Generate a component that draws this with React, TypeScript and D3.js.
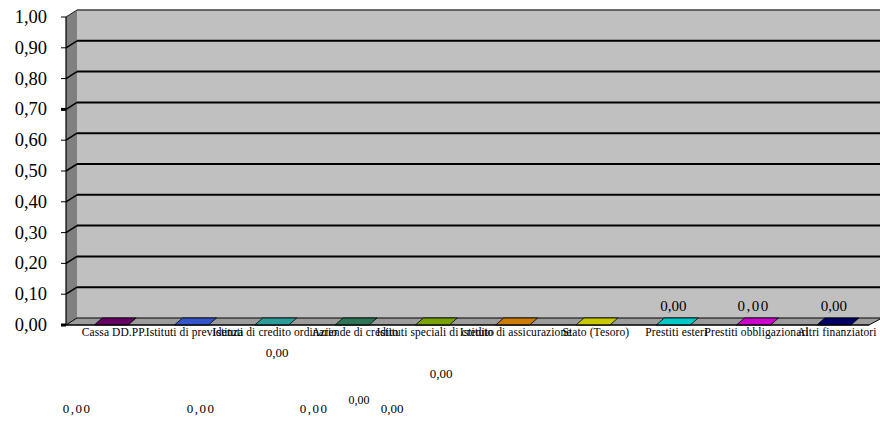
import React from "react";
import * as d3 from "d3";

const categories = [
  "Cassa DD.PP.",
  "Istituti di previdenza",
  "Istituti di credito ordinario",
  "Aziende di credito",
  "Istituti speciali di credito",
  "Istituto di assicurazione",
  "Stato (Tesoro)",
  "Prestiti esteri",
  "Prestiti obbligazionari",
  "Altri finanziatori",
];
const values = [0, 0, 0, 0, 0, 0, 0, 0, 0, 0];
const barColors = [
  "#660066", "#3355cc", "#2a9d9a", "#2e7558", "#78a300",
  "#cc7a00", "#c8c800", "#00c8c8", "#cc00cc", "#000066",
];
const yTicks = [0, 0.1, 0.2, 0.3, 0.4, 0.5, 0.6, 0.7, 0.8, 0.9, 1.0];

// layout (not data): where the stray value labels landed in the original export
const LABEL_POS: { x: number; y: number; size: number; ls: number }[] = [
  { x: 77, y: 413, size: 13, ls: 1.5 },
  { x: 201, y: 413, size: 13, ls: 1.5 },
  { x: 277, y: 357, size: 13, ls: 0 },
  { x: 314, y: 413, size: 13, ls: 1.5 },
  { x: 359, y: 404, size: 12, ls: 0 },
  { x: 392, y: 413, size: 13, ls: 0 },
  { x: 441, y: 378, size: 13, ls: 0 },
];

const W = 880;
const H = 421;
const FRONT_X0 = 66;
const FRONT_X1 = 869;
const DX = 11;
const DY = 7;
const BAR_DX = 8;
const serif = "Liberation Serif, Times New Roman, DejaVu Serif, serif";

const fmt = (v: number) => v.toFixed(2).replace(".", ",");

export default function App() {
  const y = d3.scaleLinear().domain([0, 1]).range([325, 17]);
  const x = d3
    .scaleBand<string>()
    .domain(categories)
    .range([71, 874])
    .paddingInner(0.577)
    .paddingOuter(0.2885);
  const bw = x.bandwidth();
  const yb = (v: number) => y(v) - DY;

  return (
    <svg
      width={W}
      height={H}
      style={{ position: "fixed", left: 0, top: 0, display: "block", background: "#fff", fontFamily: serif }}
    >
      {/* side wall */}
      <polygon
        points={`${FRONT_X0},${y(1)} ${FRONT_X0 + DX},${yb(1)} ${FRONT_X0 + DX},${yb(0)} ${FRONT_X0},${y(0)}`}
        fill="#808080"
      />
      {/* back wall */}
      <rect x={FRONT_X0 + DX} y={yb(1)} width={W - FRONT_X0 - DX} height={yb(0) - yb(1)} fill="#c0c0c0" />
      <line x1={FRONT_X0 + DX} x2={W} y1={yb(1)} y2={yb(1)} stroke="#404040" strokeWidth={1.5} />
      <line x1={FRONT_X0} x2={FRONT_X0 + DX} y1={y(1)} y2={yb(1)} stroke="#202020" strokeWidth={1} />
      {/* grid lines */}
      {yTicks.filter((t) => t > 0 && t < 1).map((t) => (
        <g key={t}>
          <line x1={FRONT_X0 + DX} x2={W} y1={yb(t)} y2={yb(t)} stroke="#000" strokeWidth={2} />
          <line x1={FRONT_X0} x2={FRONT_X0 + DX} y1={y(t)} y2={yb(t)} stroke="#000" strokeWidth={1.5} />
        </g>
      ))}
      {/* floor */}
      <polygon
        points={`${FRONT_X0},${y(0)} ${FRONT_X0 + DX},${yb(0)} ${W + 2},${yb(0)} ${FRONT_X1},${y(0)}`}
        fill="#9c9c9c"
        stroke="#000"
        strokeWidth={1}
      />
      {/* bars (3D, zero height) */}
      {categories.map((c, i) => {
        const x0 = x(c) as number;
        const x1 = x0 + bw;
        const top = y(values[i]);
        const base = y(0);
        return (
          <g key={c}>
            {base - top > 0 && (
              <rect x={x0} y={top} width={bw} height={base - top} fill={barColors[i]} stroke="#000" strokeWidth={0.8} />
            )}
            <polygon
              points={`${x0},${top} ${x0 + BAR_DX},${top - DY} ${x1 + BAR_DX},${top - DY} ${x1},${top}`}
              fill={barColors[i]}
              stroke="#000"
              strokeWidth={0.8}
            />
          </g>
        );
      })}
      {/* y axis */}
      <line x1={FRONT_X0} x2={FRONT_X0} y1={y(1)} y2={y(0)} stroke="#000" strokeWidth={1.2} />
      {yTicks.map((t) => (
        <g key={t}>
          <line x1={FRONT_X0 - 5} x2={FRONT_X0} y1={y(t)} y2={y(t)} stroke="#000" strokeWidth={t === 0.7 || t === 0 ? 3 : 1} />
          <text
            x={47}
            y={y(t) + 6}
            textAnchor="end"
            style={{ fontFamily: serif }}
            fontSize={18.5}
            fill="#000"
          >
            {fmt(t)}
          </text>
        </g>
      ))}
      <line x1={FRONT_X0} x2={FRONT_X1} y1={y(0)} y2={y(0)} stroke="#000" strokeWidth={1.2} />
      {/* category labels */}
      {categories.map((c) => (
        <text
          key={c}
          x={(x(c) as number) + bw / 2 + 3}
          y={336}
          textAnchor="middle"
          style={{ fontFamily: serif }}
          fontSize={11.5}
          letterSpacing={0.1}
          fill="#000"
        >
          {c}
        </text>
      ))}
      {/* value labels */}
      {categories.map((c, i) => {
        if (i >= 7) {
          return (
            <text
              key={c}
              x={(x(c) as number) + bw / 2}
              y={311}
              textAnchor="middle"
              style={{ fontFamily: serif }}
              fontSize={15}
              fill="#000"
              letterSpacing={i === 8 ? 1.5 : 0}
            >
              {fmt(values[i])}
            </text>
          );
        }
        const p = LABEL_POS[i];
        return (
          <text
            key={c}
            x={p.x}
            y={p.y}
            textAnchor="middle"
            style={{ fontFamily: serif }}
            fontSize={p.size}
            letterSpacing={p.ls}
            fill="#000"
          >
            {fmt(values[i])}
          </text>
        );
      })}
    </svg>
  );
}
